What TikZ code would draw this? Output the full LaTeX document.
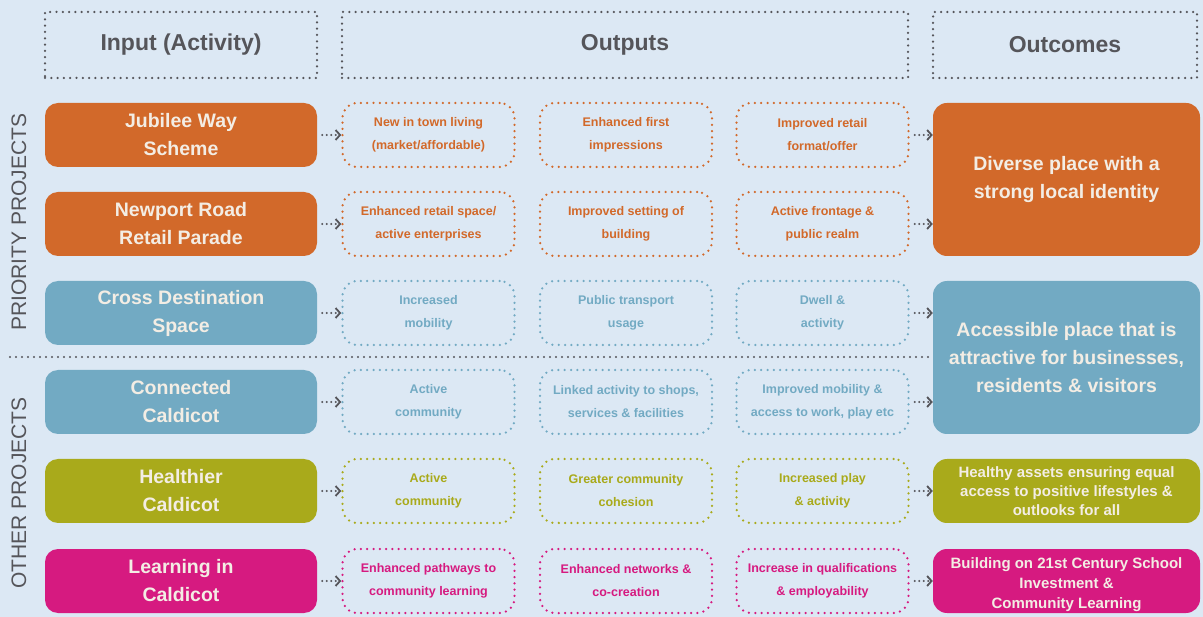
\documentclass[tikz,border=0pt]{standalone}
\usepackage{fontspec}
\setmainfont{Liberation Sans}
\usetikzlibrary{arrows.meta}
\definecolor{bg}{HTML}{DCE8F4}
\definecolor{cOr}{HTML}{D2692A}
\definecolor{cBl}{HTML}{72AAC3}
\definecolor{cOl}{HTML}{A9AA1B}
\definecolor{cMg}{HTML}{D61A80}
\definecolor{cTx}{HTML}{F3EDE4}
\definecolor{cGr}{HTML}{55555A}
\tikzset{
  dots/.style={line width=2.5pt, dash pattern=on 0pt off 6.3pt, line cap=round},
  hdr/.style={draw=cGr, dots, minimum height=66pt, text=cGr, font=\bfseries\fontsize{23}{26}\selectfont, inner sep=0pt},
  inbox/.style={fill=#1, rounded corners=13pt, minimum width=272pt, minimum height=64pt, text=cTx, align=center, font=\bfseries\fontsize{19.5}{28}\selectfont, inner sep=0pt},
  outbox/.style={draw=#1, dots, rounded corners=15pt, minimum width=172pt, minimum height=64pt, text=#1, align=center, font=\bfseries\fontsize{12.5}{23}\selectfont, inner sep=0pt},
  bigbox/.style={fill=#1, rounded corners=14pt, minimum width=267pt, text=cTx, align=center, inner sep=0pt},
  arr/.style={draw=cGr, line width=2.2pt, dash pattern=on 0pt off 4.5pt, line cap=round, -{Straight Barb[length=4.5pt,width=10pt,line width=1.8pt]}, shorten <=5pt},
  side/.style={rotate=90, text=cGr, font=\fontsize{21}{24}\selectfont}
}
\begin{document}
\begin{tikzpicture}[x=1pt,y=-1pt]
\fill[bg] (0,0) rectangle (1203,617);
\useasboundingbox (0,0) rectangle (1203,617);
% headers
\node[hdr, minimum width=272pt] (hIn) at (181,45) {Input (Activity)};
\node[hdr, minimum width=566pt] (hOut) at (625,45) {Outputs};
\node[hdr, minimum width=264pt] (hOc) at (1065,45) {Outcomes};
% side labels
\node[side] (sP) at (19,222) {PRIORITY PROJECTS};
\node[side] (sO) at (19,493) {OTHER PROJECTS};
% divider
\coordinate (dvL) at (10,357);
\coordinate (dvR) at (933,357);
\draw[draw=cGr, line width=2.2pt, dash pattern=on 0pt off 6pt, line cap=round] (dvL) -- (dvR);
% inputs
\node[inbox=cOr] (i1) at (181,135) {Jubilee Way\\Scheme};
\node[inbox=cOr] (i2) at (181,224) {Newport Road\\Retail Parade};
\node[inbox=cBl] (i3) at (181,313) {Cross Destination\\Space};
\node[inbox=cBl] (i4) at (181,402) {Connected\\Caldicot};
\node[inbox=cOl] (i5) at (181,491) {Healthier\\Caldicot};
\node[inbox=cMg] (i6) at (181,581) {Learning in\\Caldicot};
% outputs col 1
\node[outbox=cOr] (a1) at (428.5,135) {New in town living\\(market/affordable)};
\node[outbox=cOr] (a2) at (428.5,224) {Enhanced retail space/\\active enterprises};
\node[outbox=cBl] (a3) at (428.5,313) {Increased\\mobility};
\node[outbox=cBl] (a4) at (428.5,402) {Active\\community};
\node[outbox=cOl] (a5) at (428.5,491) {Active\\community};
\node[outbox=cMg] (a6) at (428.5,581) {Enhanced pathways to\\community learning};
% col 2
\node[outbox=cOr] (b1) at (626,135) {Enhanced first\\impressions};
\node[outbox=cOr] (b2) at (626,224) {Improved setting of\\building};
\node[outbox=cBl] (b3) at (626,313) {Public transport\\usage};
\node[outbox=cBl] (b4) at (626,402) {Linked activity to shops,\\services \& facilities};
\node[outbox=cOl] (b5) at (626,491) {Greater community\\cohesion};
\node[outbox=cMg] (b6) at (626,581) {Enhanced networks \&\\co-creation};
% col 3
\node[outbox=cOr] (c1) at (822.5,135) {Improved retail\\format/offer};
\node[outbox=cOr] (c2) at (822.5,224) {Active frontage \&\\public realm};
\node[outbox=cBl] (c3) at (822.5,313) {Dwell \&\\activity};
\node[outbox=cBl] (c4) at (822.5,402) {Improved mobility \&\\access to work, play etc};
\node[outbox=cOl] (c5) at (822.5,491) {Increased play\\\& activity};
\node[outbox=cMg] (c6) at (822.5,581) {Increase in qualifications\\\& employability};
% outcomes
\node[bigbox=cOr, minimum height=153pt, font=\bfseries\fontsize{19.5}{28}\selectfont] (o1) at (1066.5,179.5) {Diverse place with a\\strong local identity};
\node[bigbox=cBl, minimum height=153pt, font=\bfseries\fontsize{19.5}{28}\selectfont] (o2) at (1066.5,357.5) {Accessible place that is\\attractive for businesses,\\residents \& visitors};
\node[bigbox=cOl, minimum height=64pt, font=\bfseries\fontsize{15}{19}\selectfont] (o3) at (1066.5,491) {Healthy assets ensuring equal\\access to positive lifestyles \&\\outlooks for all};
\node[bigbox=cMg, minimum height=64pt, font=\bfseries\fontsize{15}{20}\selectfont] (o4) at (1066.5,581) {\rule{0pt}{19pt}Building on 21st Century School\\Investment \&\\Community Learning};
% arrows input -> outputs
\foreach \k in {1,...,6} {\draw[arr] (i\k.east) -- (a\k.west);}
% arrows outputs -> outcomes
\draw[arr] (c1.east) -- (c1.east -| o1.west);
\draw[arr] (c2.east) -- (c2.east -| o1.west);
\draw[arr] (c3.east) -- (c3.east -| o2.west);
\draw[arr] (c4.east) -- (c4.east -| o2.west);
\draw[arr] (c5.east) -- (o3.west);
\draw[arr] (c6.east) -- (o4.west);
\end{tikzpicture}
\end{document}
